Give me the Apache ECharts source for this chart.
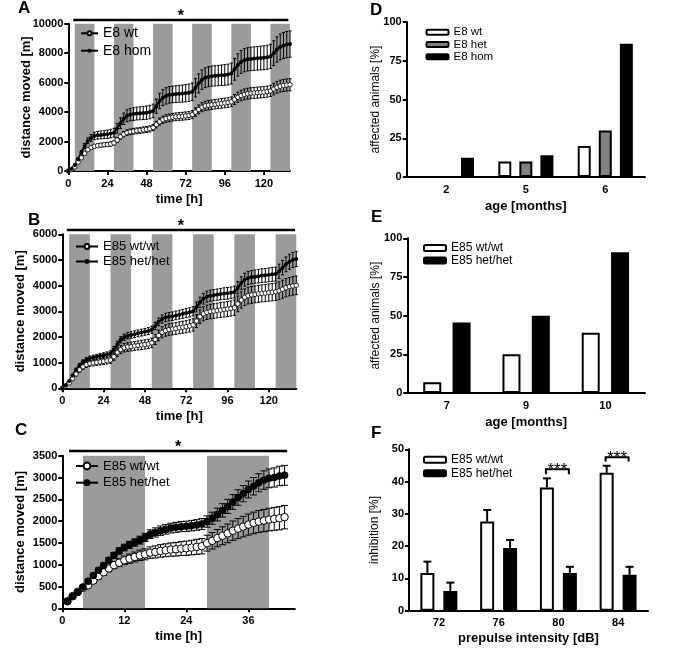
<!DOCTYPE html>
<html><head><meta charset="utf-8">
<script src="https://cdn.jsdelivr.net/npm/echarts@6/dist/echarts.min.js"></script>
<style>html,body{margin:0;padding:0;background:#fff}#c{width:685px;height:662px}</style>
</head><body><div id="c"></div>
<script>
// ---------- DATA ----------
const timeAB = [0,2,4,6,8,10,12,14,16,18,20,22,24,26,28,30,32,34,36,38,40,42,44,46,48,50,52,54,56,58,60,62,64,66,68,70,72,74,76,78,80,82,84,86,88,90,92,94,96,98,100,102,104,106,108,110,112,114,116,118,120,122,124,126,128,130,132,134,136];
const aWt = [0,100,280,600,900,1200,1450,1600,1680,1720,1750,1780,1800,1830,1900,2100,2330,2500,2600,2660,2700,2730,2760,2790,2820,2860,2950,3150,3350,3480,3560,3610,3650,3680,3700,3720,3740,3770,3830,4000,4180,4330,4420,4470,4500,4530,4560,4590,4620,4650,4700,4850,5000,5120,5200,5250,5280,5300,5320,5340,5360,5390,5440,5560,5680,5760,5810,5840,5860];
const aWtErr = [0,20,40,60,80,95,110,120,125,128,130,132,135,138,142,155,170,180,188,192,195,197,200,202,205,208,212,225,238,248,254,258,260,262,264,266,268,270,274,285,297,306,312,315,317,319,321,323,325,327,330,340,352,360,366,369,371,372,373,375,377,379,382,390,398,404,408,410,412];
const aHom = [0,150,400,800,1250,1700,2050,2250,2380,2420,2450,2480,2500,2540,2600,2900,3250,3550,3750,3830,3870,3900,3920,3940,3960,4000,4080,4400,4750,4980,5100,5170,5200,5220,5240,5260,5280,5310,5380,5650,5950,6200,6330,6400,6440,6460,6480,6500,6520,6550,6620,6900,7200,7400,7520,7580,7610,7630,7650,7670,7690,7720,7780,8000,8250,8420,8520,8580,8620];
const aHomErr = [0,30,60,100,130,170,200,230,250,260,270,275,280,290,300,330,360,390,410,420,430,435,440,445,450,455,460,490,520,540,555,560,565,570,575,580,585,590,595,620,645,660,670,675,680,685,690,695,700,705,710,735,760,775,785,790,795,800,800,805,810,815,820,840,860,875,885,890,895];
const bWt = [0,90,210,380,560,720,840,920,970,990,1010,1030,1050,1070,1100,1230,1390,1510,1580,1610,1630,1650,1670,1690,1710,1730,1770,1900,2060,2180,2250,2290,2310,2330,2360,2380,2400,2430,2470,2620,2790,2900,2960,2990,3010,3030,3050,3070,3090,3110,3140,3290,3440,3550,3610,3640,3660,3680,3700,3710,3730,3745,3760,3800,3860,3920,3960,3990,4010];
const bWtErr = [0,15,35,55,75,90,100,108,112,115,118,120,122,124,127,138,150,160,166,170,172,174,176,178,180,182,185,196,208,217,222,226,228,230,232,234,236,238,242,254,266,274,279,282,284,286,288,290,292,294,297,306,315,321,325,327,329,331,332,334,336,338,340,346,352,356,358,360,362];
const bHet = [0,120,280,500,720,900,1030,1110,1170,1200,1230,1260,1290,1320,1360,1520,1720,1890,1990,2050,2080,2110,2140,2170,2200,2230,2280,2430,2590,2700,2760,2790,2810,2840,2870,2900,2930,2960,3000,3170,3350,3490,3570,3610,3630,3650,3670,3690,3700,3720,3750,3920,4100,4230,4300,4330,4350,4370,4390,4400,4420,4440,4450,4560,4700,4830,4930,5000,5040];
const bHetErr = [0,15,30,45,60,70,78,84,88,90,92,94,96,98,100,108,116,122,126,128,130,131,132,133,134,135,137,145,152,158,162,164,166,168,170,172,174,176,180,190,200,208,213,216,218,220,222,224,226,228,230,238,246,252,256,258,260,262,264,266,268,270,272,278,284,288,291,293,295];
const timeC = [1,2,3,4,5,6,7,8,9,10,11,12,13,14,15,16,17,18,19,20,21,22,23,24,25,26,27,28,29,30,31,32,33,34,35,36,37,38,39,40,41,42,43];
const cWt = [160,280,380,470,526,635,735,828,913,990,1045,1100,1138,1176,1215,1238,1277,1293,1316,1331,1347,1355,1370,1378,1393,1409,1424,1494,1548,1610,1664,1718,1780,1827,1873,1920,1958,1990,2012,2035,2051,2066,2090];
const cWtErr = [20,25,30,35,42,50,58,66,74,82,90,98,106,114,120,126,132,138,143,148,152,156,160,164,168,172,176,182,190,198,206,214,222,230,236,242,247,252,256,260,263,266,268];
const cHet = [160,270,370,490,620,750,875,983,1100,1215,1316,1393,1455,1509,1563,1625,1700,1740,1780,1810,1840,1857,1873,1880,1896,1911,1935,1990,2066,2150,2245,2337,2438,2540,2630,2725,2800,2880,2940,2980,3000,3035,3050];
const cHetErr = [20,25,30,35,40,45,50,55,60,65,70,75,80,85,90,95,100,105,108,110,112,114,116,118,120,122,125,130,138,146,154,162,170,178,186,194,200,206,212,216,220,224,228];
const darkAB = [[4,16],[28,40],[52,64],[76,88],[100,112],[124,136]];
const darkC = [[4,16],[28,40]];
const ticksAB = [0,24,48,72,96,120];
const ticksC = [0,12,24,36];
const starA = [[3,135,10250]];
const starB = [[2.6,135.3,6170]];
const starC = [[1.3,43.5,3608]];

const monthsD = ['2','5','6'];
const dWt = [0,10,20];
const dHet = [0,10,30];
const dHom = [12.5,14,86];
const monthsE = ['7','9','10'];
const eWt = [7,25,39];
const eHet = [45.5,50,91];
const dbF = ['72','76','80','84'];
const fWt = [11.7,27.6,38.2,42.7];
const fWtErr = [3.5,3.6,2.8,2.2];
const fHet = [6.1,19.4,11.7,11.1];
const fHetErr = [2.6,2.5,1.9,2.5];
const sigF = [[2,43.8,1.5],[3,47.5,1.3]];

// ---------- STYLE / HELPERS ----------
const FONT = 'Liberation Sans, Arial, Helvetica, sans-serif';
const BLACK = '#000';
const fOff = 14 * 1.64 / 2; // half spacing between F bars

function bandRender(params, api) {
  const cs = params.coordSys;
  const x1 = api.coord([api.value(0), 0])[0];
  const x2 = api.coord([api.value(1), 0])[0];
  return {type:'rect', shape:{x:x1, y:cs.y, width:x2-x1, height:cs.height}, style:{fill:'#9b9b9b'}};
}
function errRender(cap, lw) {
  return function(params, api) {
    const x = api.value(0), y = api.value(1), e = api.value(2);
    if (!e) return null;
    const t = api.coord([x, y+e]), b = api.coord([x, y-e]);
    const st = {stroke:BLACK, lineWidth:lw};
    return {type:'group', children:[
      {type:'line', shape:{x1:t[0],y1:t[1],x2:b[0],y2:b[1]}, style:st},
      {type:'line', shape:{x1:t[0]-cap,y1:t[1],x2:t[0]+cap,y2:t[1]}, style:st},
      {type:'line', shape:{x1:b[0]-cap,y1:b[1],x2:b[0]+cap,y2:b[1]}, style:st}
    ]};
  };
}
function starRender(params, api) {
  const p1 = api.coord([api.value(0), api.value(2)]);
  const p2 = api.coord([api.value(1), api.value(2)]);
  return {type:'group', children:[
    {type:'line', shape:{x1:p1[0],y1:p1[1],x2:p2[0],y2:p2[1]}, style:{stroke:BLACK, lineWidth:2.5}},
    {type:'text', x:(p1[0]+p2[0])/2, y:p1[1]-3, style:{text:'*', fill:BLACK, font:'bold 16px '+FONT, align:'center', verticalAlign:'middle'}}
  ]};
}
function barErrRender(off) {
  return function(params, api) {
    const c = api.coord([api.value(0), api.value(1)]);
    const t = api.coord([api.value(0), api.value(1)+api.value(2)]);
    const x = c[0] + off;
    const st = {stroke:BLACK, lineWidth:2};
    return {type:'group', children:[
      {type:'line', shape:{x1:x,y1:c[1],x2:x,y2:t[1]}, style:st},
      {type:'line', shape:{x1:x-4,y1:t[1],x2:x+4,y2:t[1]}, style:st}
    ]};
  };
}
function bracketRender(params, api) {
  const c = api.coord([api.value(0), api.value(1)]);
  const b = api.coord([api.value(0), api.value(1)-api.value(2)]);
  const l = c[0]-fOff-1, r = c[0]+fOff-1;
  return {type:'group', children:[
    {type:'polyline', shape:{points:[[l,b[1]],[l,c[1]],[r,c[1]],[r,b[1]]]}, style:{stroke:BLACK, lineWidth:2, fill:null}},
    {type:'text', x:(l+r)/2, y:c[1]+1, style:{text:'***', fill:BLACK, font:'17px '+FONT, align:'center', verticalAlign:'middle'}}
  ]};
}

function grid(left, top, width, height) {
  return {left, top, width, height, containLabel:false, outerBoundsMode:'none'};
}
const axLine = {show:true, lineStyle:{color:BLACK, width:2}};
const axTick = {show:true, length:4, lineStyle:{color:BLACK, width:2}};
const plain = v => String(v);
function valueX(gi, max, ticks) {
  return {type:'value', gridIndex:gi, min:0, max:max,
    axisLine:axLine, axisTick:Object.assign({customValues:ticks}, axTick),
    axisLabel:{customValues:ticks, formatter:plain, color:BLACK, fontSize:11, fontWeight:'bold', fontFamily:FONT, margin:7},
    splitLine:{show:false},
    name:'time [h]', nameLocation:'middle', nameGap:22, nameMoveOverlap:false,
    nameTextStyle:{color:BLACK, fontSize:13, fontWeight:'bold', fontFamily:FONT}};
}
function valueY(gi, max, interval, name, bold, gap, fs) {
  return {type:'value', gridIndex:gi, min:0, max:max, interval:interval,
    axisLine:axLine, axisTick:axTick,
    axisLabel:{formatter:plain, color:BLACK, fontSize:fs, fontWeight:'bold', fontFamily:FONT, margin:5},
    splitLine:{show:false},
    name:name, nameLocation:'middle', nameGap:gap, nameMoveOverlap:false,
    nameTextStyle:{color:BLACK, fontSize:bold?13:12, fontWeight:bold?'bold':'normal', fontFamily:FONT}};
}
function catX(gi, cats, name, gap) {
  return {type:'category', gridIndex:gi, data:cats,
    axisLine:axLine, axisTick:{show:false},
    axisLabel:{color:BLACK, fontSize:11, fontWeight:'bold', fontFamily:FONT, margin:7},
    splitLine:{show:false},
    name:name, nameLocation:'middle', nameGap:gap, nameMoveOverlap:false,
    nameTextStyle:{color:BLACK, fontSize:13, fontWeight:'bold', fontFamily:FONT}};
}
const fmt = n => n.split('|')[1];
function legend(names, left, top, iw, ih, gap, fs, lh, bar) {
  const o = {data:names, orient:'vertical', left, top, padding:0, itemWidth:iw, itemHeight:ih, itemGap:gap,
    selectedMode:false, formatter:fmt,
    textStyle:{color:BLACK, fontSize:fs, fontFamily:FONT, lineHeight:lh}};
  if (bar) o.itemStyle = {borderColor:BLACK, borderWidth:2};
  return o;
}
function lineSeries(name, gi, xs, ys, filled, size, lw, bw) {
  return {type:'line', name, xAxisIndex:gi, yAxisIndex:gi, z:4,
    data: xs.map((x,i)=>[x, ys[i]]), symbol:'circle', symbolSize:size, showAllSymbol:true,
    lineStyle:{color:BLACK, width:lw},
    itemStyle: filled ? {color:BLACK, borderColor:BLACK, borderWidth:0} : {color:'#fff', borderColor:BLACK, borderWidth:bw},
    emphasis:{disabled:true}, silent:true};
}
function errSeries(gi, xs, ys, es, cap, lw) {
  return {type:'custom', xAxisIndex:gi, yAxisIndex:gi, z:3, silent:true,
    data: xs.map((x,i)=>[x, ys[i], es[i]]), encode:{x:0, y:1}, renderItem:errRender(cap, lw)};
}
function bandSeries(gi, bands) {
  return {type:'custom', xAxisIndex:gi, yAxisIndex:gi, z:1, silent:true, data:bands, encode:{x:[0,1]}, renderItem:bandRender};
}
function starSeries(gi, d) {
  return {type:'custom', xAxisIndex:gi, yAxisIndex:gi, z:5, silent:true, clip:false, data:d, encode:{x:[0,1], y:2}, renderItem:starRender};
}
function barSeries(name, gi, vals, color, bw, gapPct) {
  return {type:'bar', name, xAxisIndex:gi, yAxisIndex:gi, data:vals, barWidth:bw, barGap:gapPct, z:3,
    itemStyle:{color, borderColor:BLACK, borderWidth:2}, emphasis:{disabled:true}, silent:true};
}

const option = {
  animation:false,
  textStyle:{fontFamily:FONT},
  title:[
    {text:'A', left:18, top:0, padding:0, textStyle:{fontSize:17, fontWeight:'bold', color:BLACK, fontFamily:FONT}},
    {text:'B', left:28, top:212, padding:0, textStyle:{fontSize:17, fontWeight:'bold', color:BLACK, fontFamily:FONT}},
    {text:'C', left:15, top:422, padding:0, textStyle:{fontSize:17, fontWeight:'bold', color:BLACK, fontFamily:FONT}},
    {text:'D', left:370, top:2, padding:0, textStyle:{fontSize:17, fontWeight:'bold', color:BLACK, fontFamily:FONT}},
    {text:'E', left:371, top:209, padding:0, textStyle:{fontSize:17, fontWeight:'bold', color:BLACK, fontFamily:FONT}},
    {text:'F', left:371, top:425, padding:0, textStyle:{fontSize:17, fontWeight:'bold', color:BLACK, fontFamily:FONT}}
  ],
  grid:[
    grid(68.3, 23.7, 221.7, 147.3),
    grid(62.3, 234.3, 234, 154),
    grid(62.3, 455.7, 232.6, 152.6),
    grid(406.7, 22, 238.3, 155),
    grid(407.3, 238.3, 237.7, 154.7),
    grid(409, 449.3, 239, 161.4)
  ],
  xAxis:[
    valueX(0, 136, ticksAB),
    valueX(1, 136, ticksAB),
    valueX(2, 45, ticksC),
    catX(3, monthsD, 'age [months]', 23),
    catX(4, monthsE, 'age [months]', 23),
    catX(5, dbF, 'prepulse intensity [dB]', 21)
  ],
  yAxis:[
    valueY(0, 10000, 2000, 'distance moved [m]', true, 35, 11),
    valueY(1, 6000, 1000, 'distance moved [m]', true, 35, 11),
    valueY(2, 3500, 500, 'distance moved [m]', true, 35, 11),
    valueY(3, 100, 25, 'affected animals [%]', false, 25, 11),
    valueY(4, 100, 25, 'affected animals [%]', false, 26, 11),
    valueY(5, 50, 10, 'inhibition [%]', false, 28, 11)
  ],
  legend:[
    legend(['A|E8 wt','A|E8 hom'], 80, 26.3, 17, 5, 3.4, 14, 14),
    legend(['B|E85 wt/wt','B|E85 het/het'], 75, 240, 22, 6, 2, 13, 13),
    legend(['C|E85 wt/wt','C|E85 het/het'], 75, 459.5, 22, 8.5, 3.7, 13, 13),
    legend(['D|E8 wt','D|E8 het','D|E8 hom'], 425.5, 26.2, 22, 5, 0.3, 11.5, 11, true),
    legend(['E|E85 wt/wt','E|E85 het/het'], 423, 242, 22, 6, 0.5, 12, 12, true),
    legend(['F|E85 wt/wt','F|E85 het/het'], 423, 453.7, 22, 6, 1.6, 12, 12, true)
  ],
  series:[
    bandSeries(0, darkAB), bandSeries(1, darkAB), bandSeries(2, darkC),
    errSeries(0, timeAB, aWt, aWtErr, 1.5, 1),
    errSeries(0, timeAB, aHom, aHomErr, 1.5, 1),
    lineSeries('A|E8 wt', 0, timeAB, aWt, false, 4.5, 1, 0.8),
    lineSeries('A|E8 hom', 0, timeAB, aHom, true, 4, 2, 0),
    errSeries(1, timeAB, bWt, bWtErr, 1.5, 1),
    errSeries(1, timeAB, bHet, bHetErr, 1.5, 1),
    lineSeries('B|E85 wt/wt', 1, timeAB, bWt, false, 4.5, 1, 0.8),
    lineSeries('B|E85 het/het', 1, timeAB, bHet, true, 4, 2, 0),
    errSeries(2, timeC, cWt, cWtErr, 3.5, 1),
    errSeries(2, timeC, cHet, cHetErr, 3.5, 1),
    lineSeries('C|E85 wt/wt', 2, timeC, cWt, false, 7.5, 1, 1),
    lineSeries('C|E85 het/het', 2, timeC, cHet, true, 7.5, 1, 0),
    starSeries(0, starA), starSeries(1, starB), starSeries(2, starC),
    barSeries('D|E8 wt', 3, dWt, '#fff', 13, '62%'),
    barSeries('D|E8 het', 3, dHet, '#808080', 13, '62%'),
    barSeries('D|E8 hom', 3, dHom, '#000', 13, '62%'),
    barSeries('E|E85 wt/wt', 4, eWt, '#fff', 18, '63%'),
    barSeries('E|E85 het/het', 4, eHet, '#000', 18, '63%'),
    barSeries('F|E85 wt/wt', 5, fWt, '#fff', 14, '64%'),
    barSeries('F|E85 het/het', 5, fHet, '#000', 14, '64%'),
    {type:'custom', xAxisIndex:5, yAxisIndex:5, z:2, silent:true, data:fWt.map((v,i)=>[i,v,fWtErr[i]]), encode:{x:0,y:1}, renderItem:barErrRender(-fOff)},
    {type:'custom', xAxisIndex:5, yAxisIndex:5, z:2, silent:true, data:fHet.map((v,i)=>[i,v,fHetErr[i]]), encode:{x:0,y:1}, renderItem:barErrRender(fOff)},
    {type:'custom', xAxisIndex:5, yAxisIndex:5, z:5, silent:true, clip:false, data:sigF, encode:{x:0,y:1}, renderItem:bracketRender}
  ]
};
const chart = echarts.init(document.getElementById('c'), null, {renderer:'canvas'});
chart.setOption(option);
</script>
</body></html>
